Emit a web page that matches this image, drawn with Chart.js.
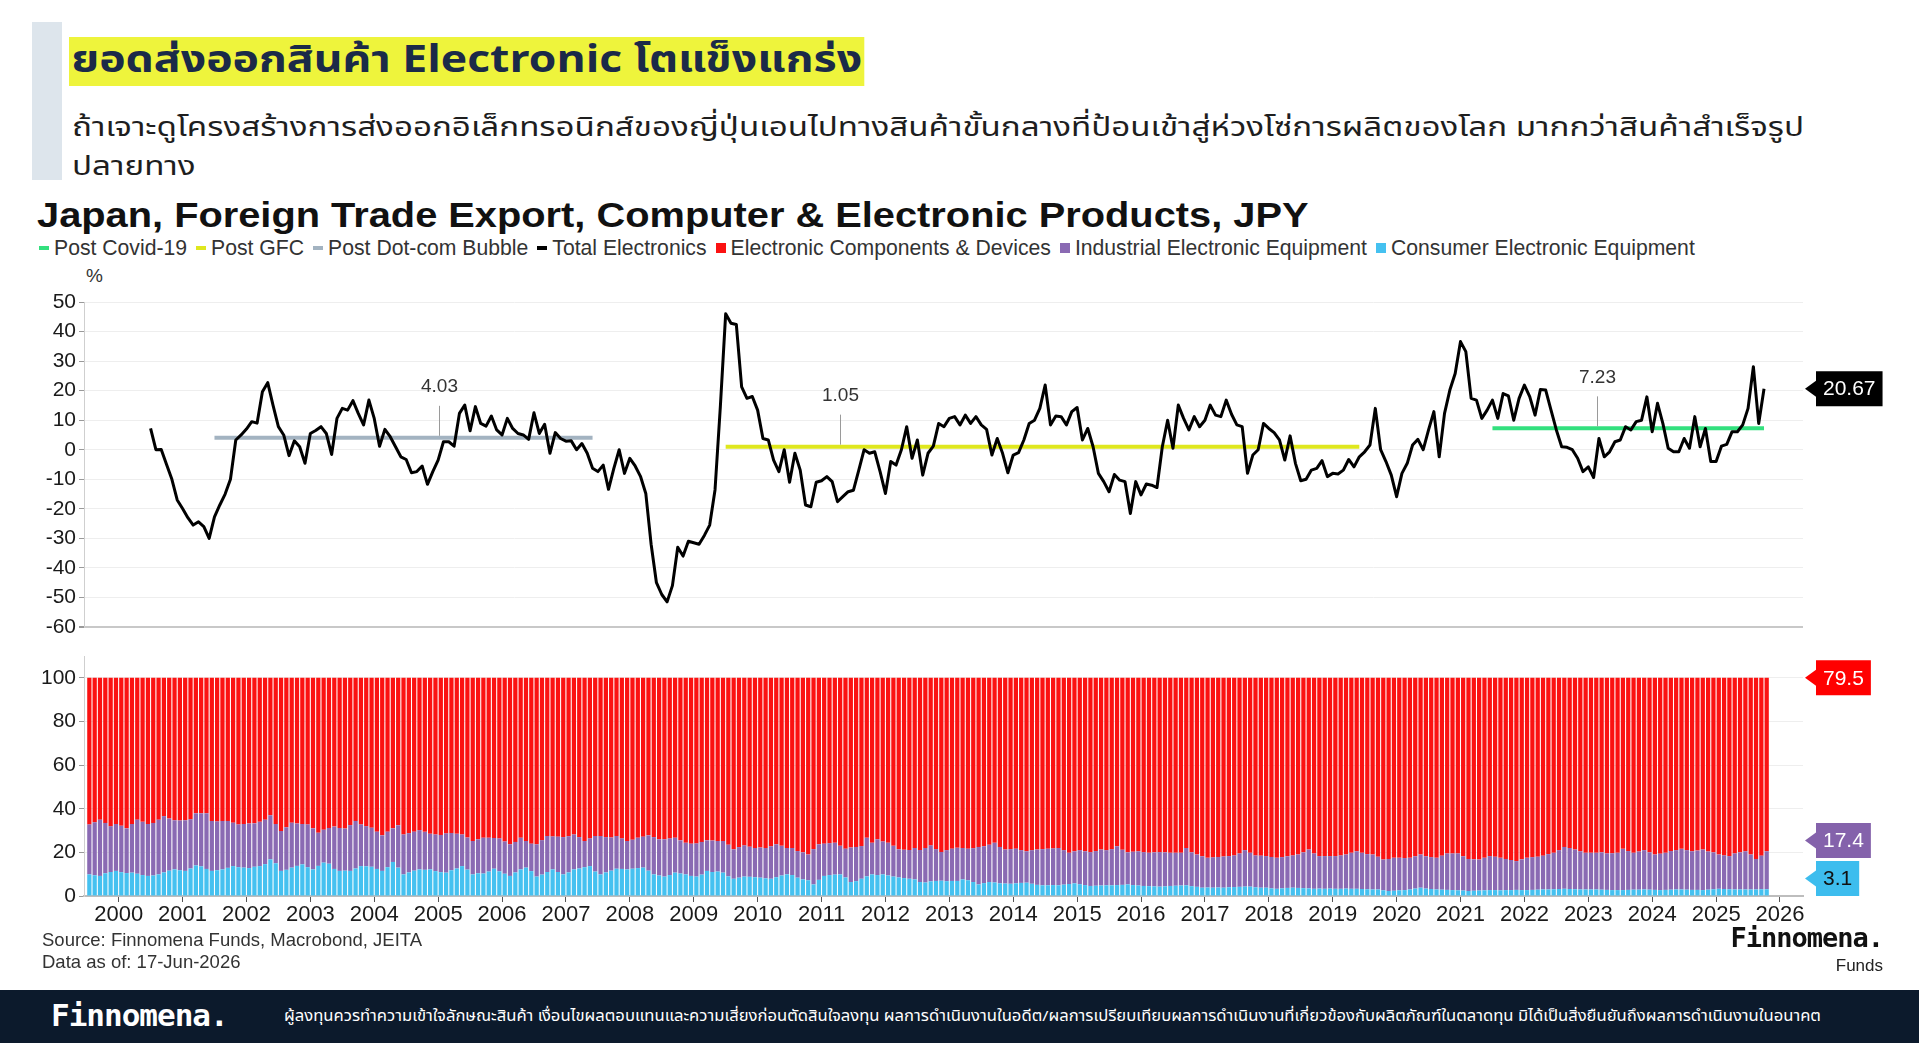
<!DOCTYPE html>
<html lang="th">
<head>
<meta charset="utf-8">
<title>Japan, Foreign Trade Export, Computer &amp; Electronic Products</title>
<script src="https://cdn.jsdelivr.net/npm/chart.js@4.4.1/dist/chart.umd.min.js"></script>
<style>
  html, body { margin:0; padding:0; background:#fff; }
  body { width:1919px; height:1043px; position:relative; overflow:hidden; font-family:"Liberation Sans", Arial, sans-serif; color:#222; }
  .abs { position:absolute; }
  #accent { left:32px; top:22px; width:30px; height:158px; background:#dde5ec; }
  #head { left:69px; top:37px; height:49px; line-height:49px; font-family:"Noto Sans Thai","Noto Sans",sans-serif; font-weight:700; font-size:37px; color:#1b2a48; background:#eef43c; padding:0 2px; white-space:nowrap; transform:scaleX(1.205); transform-origin:0 0; }
  #sub { left:72px; top:108px; font-family:"Noto Sans Thai","Noto Sans",sans-serif; font-size:27px; line-height:39px; color:#1e1e1e; white-space:nowrap; transform:scaleX(1.228); transform-origin:0 0; }
  #title { left:37px; top:194px; font-weight:700; font-size:35px; line-height:42px; color:#111; white-space:nowrap; transform:scaleX(1.137); transform-origin:0 0; }
  #legend { left:39px; top:236px; font-size:21.2px; line-height:24px; color:#333; display:flex; white-space:nowrap; }
  #legend .item { display:flex; align-items:center; margin-right:9px; }
  #legend i { display:inline-block; margin-right:5px; }
  #unit { left:86px; top:265px; font-size:19px; color:#333; }
  #topWrap { left:0; top:280px; }
  #botWrap { left:0; top:640px; }
  #source { left:42px; top:929px; font-size:18.5px; line-height:22px; color:#333; }
  #logo { right:36px; top:922px; font-family:"DejaVu Sans Mono", monospace; font-weight:700; font-size:27px; color:#111; letter-spacing:-1px; }
  #funds { right:36px; top:956px; font-size:17px; color:#222; }
  #footer { left:0; top:990px; width:1919px; height:53px; background:#0c1a2c; color:#fff; }
  #footLogo { left:51px; top:7px; font-family:"DejaVu Sans Mono", monospace; font-weight:700; font-size:31px; letter-spacing:-1px; }
  #disc { left:284px; top:15px; font-family:"Noto Sans Thai","Noto Sans",sans-serif; font-size:15px; white-space:nowrap; transform:scaleX(1.108); transform-origin:0 0; }
</style>
</head>
<body>
<div id="accent" class="abs"></div>
<div id="head" class="abs">ยอดส่งออกสินค้า Electronic โตแข็งแกร่ง</div>
<div id="sub" class="abs">ถ้าเจาะดูโครงสร้างการส่งออกอิเล็กทรอนิกส์ของญี่ปุ่นเอนไปทางสินค้าขั้นกลางที่ป้อนเข้าสู่ห่วงโซ่การผลิตของโลก มากกว่าสินค้าสำเร็จรูป<br>ปลายทาง</div>
<div id="title" class="abs">Japan, Foreign Trade Export, Computer &amp; Electronic Products, JPY</div>
<div id="legend" class="abs"></div>
<div id="unit" class="abs">%</div>
<div id="topWrap" class="abs"><canvas id="topChart" width="1919" height="365"></canvas></div>
<div id="botWrap" class="abs"><canvas id="botChart" width="1919" height="300"></canvas></div>
<div id="source" class="abs">Source: Finnomena Funds, Macrobond, JEITA<br>Data as of: 17-Jun-2026</div>
<div id="logo" class="abs">Finnomena.</div>
<div id="funds" class="abs">Funds</div>
<div id="footer" class="abs">
  <div id="footLogo" class="abs">Finnomena.</div>
  <div id="disc" class="abs">ผู้ลงทุนควรทำความเข้าใจลักษณะสินค้า เงื่อนไขผลตอบแทนและความเสี่ยงก่อนตัดสินใจลงทุน ผลการดำเนินงานในอดีต/ผลการเปรียบเทียบผลการดำเนินงานที่เกี่ยวข้องกับผลิตภัณฑ์ในตลาดทุน มิได้เป็นสิ่งยืนยันถึงผลการดำเนินงานในอนาคต</div>
</div>
<script>
// months of the share data: 2000-01 .. 2026-04
const months = [];
for (let y = 2000; y <= 2026; y++) for (let m = 1; m <= 12; m++) {
  if (y === 2026 && m > 4) break;
  months.push(`${y}-${String(m).padStart(2, '0')}`);
}
const lineMonths = months.slice(12); // YoY starts 2001-01
const yearTicks = [];
for (let y = 2000; y <= 2026; y++) yearTicks.push(y);

// Total Electronics, % YoY
const totalElectronics = [
  7.2, 0, 0.1, -5, -10, -17, -19.9, -23, -25.5, -24.4, -26, -30,            // 2001
  -22.7, -18.7, -15, -10, 3.3, 5, 7, 9.5, 9, 19.6, 22.7, 15,                // 2002
  7.8, 5, -2, 3, 1, -4.6, 5.5, 6.5, 7.8, 5.5, -1.6, 10.6,                   // 2003
  14, 13.4, 16.6, 12.3, 8.4, 16.8, 10.6, 1.2, 6.9, 4.4, 1, -2.4,            // 2004
  -3.3, -7.8, -7.4, -5.5, -11.7, -7.4, -3.5, 2.7, 2.7, 1.2, 12.3, 15.1,     // 2005
  6.4, 14.6, 8.9, 8, 11.4, 6.7, 5, 10.6, 7.2, 5.5, 5, 3.5,                  // 2006
  12.5, 5.5, 8.6, -1.2, 5.8, 3.8, 2.9, 3, 0, 2.1, -1.2, -6.3,               // 2007
  -7.4, -5.2, -13.4, -6.3, 0, -8, -2.9, -5.5, -9, -14.8, -32, -45,          // 2008
  -49, -51.5, -46, -33, -36, -31, -31.5, -32, -29, -25.5, -13.6, 14.6,      // 2009
  46, 42.8, 42.4, 21.3, 17.4, 18, 13.4, 3.8, 3.3, -3.5, -7.4, 0,            // 2010
  -11, -1.2, -6.9, -18.7, -19.3, -11, -10.5, -9.1, -10.8, -17.6, -15.9, -14.2, // 2011
  -13.7, -6.9, 0, -1.2, -0.7, -7.4, -14.8, -4, -5.2, 0, 7.8, -2.9,          // 2012
  3.3, -8.6, -1.2, 1.2, 8.9, 7.8, 10.6, 11.2, 8.4, 11.7, 8.9, 11.2,         // 2013
  8.4, 6.9, -1.8, 3.8, -1.2, -7.8, -1.8, -1, 3.3, 8.9, 10, 14,              // 2014
  21.9, 8.4, 11.4, 11.2, 8.4, 12.9, 14.3, 3.3, 7.2, 1, -8, -10.8,           // 2015
  -14.2, -8.4, -10.3, -10.8, -21.6, -10.8, -15.3, -11.6, -12, -12.8, 1, 10, // 2016
  0.5, 15.1, 10.6, 6.7, 11.2, 7.8, 10, 15.1, 11.7, 11.2, 16.8, 12,          // 2017
  8.4, 7.8, -8, -1.8, 0, 8.9, 7.2, 5.8, 3.3, -3.5, 4.7, -4.6,               // 2018
  -10.5, -10, -6.9, -6.3, -3.7, -9.1, -8, -8.2, -6.9, -3.3, -5.8, -2.4,     // 2019
  -0.7, 1.6, 14, 0, -4, -8.6, -15.9, -8, -4.6, 1.6, 3.5, 0,                 // 2020
  6.7, 12.9, -2.4, 12.3, 20.2, 25.8, 36.6, 33.2, 17.4, 16.8, 10.6, 13.4,    // 2021
  16.8, 10.6, 19, 18.2, 10, 17.4, 21.9, 18, 11.7, 20.4, 20.2, 13.4,         // 2022
  6.7, 1, 0.8, 0, -2.9, -7.4, -5.8, -9.4, 3.8, -2.4, -0.7, 2.7,             // 2023
  3.3, 7.8, 6.7, 9.5, 10, 17.9, 6.1, 15.7, 8.9, 0.5, -0.7, -0.7,            // 2024
  3.8, 0.5, 11.2, 1, 7.2, -4, -4, 1.2, 1.8, 6.1, 6.1, 8.4,                  // 2025
  14, 28.1, 8.9, 20.67                                                      // 2026
];

// period averages
const avgNames = ['Post Covid-19', 'Post GFC', 'Post Dot-com Bubble'];
const avgValues = [7.23, 1.05, 4.03];
const avgFrom = ['2022-01', '2010-01', '2002-01'];
const avgTo = ['2026-04', '2019-12', '2007-12'];

// shares of exports, % (stack to 100)
const consumerShare = [
  9.9, 9.5, 9.2, 10.4, 11.0, 11.5, 10.9, 10.5, 10.7, 10.2, 9.6, 9.2,
  9.4, 9.9, 10.8, 11.6, 12.2, 11.8, 11.5, 12.6, 14.0, 13.6, 12.4, 11.5,
  11.8, 12.2, 12.9, 13.7, 13.2, 13.0, 12.8, 13.4, 13.7, 14.6, 16.8, 15.0,
  11.5, 12.0, 13.0, 13.8, 14.5, 13.2, 12.2, 13.8, 15.3, 14.8, 12.4, 11.5,
  11.6, 11.5, 12.6, 13.7, 13.6, 13.4, 12.4, 11.5, 13.2, 15.6, 13.0, 9.9,
  10.8, 11.6, 12.2, 12.0, 12.2, 11.4, 10.9, 10.7, 11.8, 12.6, 13.7, 12.1,
  9.9, 10.4, 10.3, 11.2, 12.5, 11.3, 10.2, 9.2, 10.8, 12.2, 13.0, 11.4,
  8.9, 9.8, 11.0, 12.2, 11.0, 9.9, 10.8, 12.2, 12.6, 13.2, 13.7, 11.2,
  9.9, 10.8, 11.6, 12.5, 12.4, 12.2, 12.5, 12.8, 13.0, 11.6, 9.9, 9.4,
  8.9, 9.6, 10.7, 10.3, 9.9, 9.2, 8.9, 9.8, 11.5, 11.0, 11.2, 10.7,
  9.0, 7.9, 8.4, 8.9, 8.8, 8.6, 8.4, 8.1, 7.9, 8.6, 9.4, 9.9,
  9.6, 8.4, 7.6, 7.2, 5.3, 7.4, 9.2, 9.6, 9.8, 9.9, 8.5, 6.4,
  6.8, 7.9, 9.0, 9.9, 9.6, 9.9, 9.4, 8.9, 8.5, 8.2, 7.9, 7.6,
  6.4, 6.2, 6.7, 6.9, 7.0, 6.8, 6.9, 6.9, 7.6, 7.2, 6.4, 5.3,
  5.9, 6.4, 6.2, 5.8, 5.7, 5.6, 5.8, 6.0, 6.1, 5.6, 5.1, 4.9,
  4.9, 5.0, 4.9, 5.2, 5.5, 5.8, 5.4, 5.0, 4.6, 4.7, 4.8, 4.9,
  4.9, 5.0, 5.1, 5.3, 5.0, 4.8, 4.6, 4.5, 4.4, 4.3, 4.4, 4.6,
  4.7, 4.8, 4.9, 4.5, 4.2, 3.8, 3.9, 3.8, 3.9, 3.8, 4.0, 4.1,
  4.2, 4.3, 4.3, 4.0, 3.8, 3.8, 3.5, 3.3, 3.5, 3.7, 3.8, 3.7,
  3.6, 3.5, 3.3, 3.4, 3.3, 3.4, 3.3, 3.3, 3.4, 3.3, 3.3, 3.2,
  3.1, 3.0, 3.0, 2.6, 2.3, 2.4, 2.6, 2.7, 3.0, 3.4, 3.8, 3.4,
  3.2, 3.0, 2.9, 2.8, 2.7, 2.6, 2.5, 2.3, 2.4, 2.5, 2.6, 2.7,
  2.7, 2.6, 2.7, 2.7, 2.8, 2.7, 2.7, 2.8, 2.9, 3.0, 3.0, 3.1,
  3.2, 3.3, 3.2, 3.1, 3.0, 3.0, 3.0, 3.0, 2.9, 2.8, 2.7, 2.7,
  2.7, 2.8, 2.9, 2.9, 3.0, 2.9, 2.8, 2.7, 2.8, 2.9, 3.0, 3.0,
  2.9, 2.8, 2.8, 2.7, 2.9, 3.1, 3.3, 3.2, 3.1, 3.0, 3.0, 3.0,
  3.0, 3.0, 3.1, 3.1
];
const industrialShare = [
  22.9, 24.3, 25.8, 23.1, 21.0, 21.5, 21.3, 20.5, 22.3, 24.8, 24.4, 23.8,
  24.1, 25.1, 25.8, 23.9, 22.5, 22.8, 23.2, 22.6, 23.9, 24.3, 25.5, 22.9,
  22.4, 22.2, 21.5, 19.9, 19.6, 20.0, 20.4, 19.9, 20.3, 20.4, 20.2, 18.0,
  18.3, 19.5, 20.6, 19.4, 18.5, 19.6, 18.8, 15.2, 15.1, 16.4, 19.4, 19.7,
  19.3, 21.0, 21.8, 19.1, 18.4, 17.9, 17.1, 16.3, 16.3, 15.4, 19.4, 18.3,
  18.0, 17.9, 18.0, 17.4, 16.3, 16.8, 17.1, 18.0, 17.1, 15.9, 14.5, 14.7,
  15.3, 15.6, 16.4, 15.5, 14.1, 15.1, 14.8, 14.5, 14.0, 14.5, 12.2, 12.6,
  14.8, 15.8, 16.5, 15.1, 16.2, 17.1, 16.6, 16.0, 14.4, 12.0, 12.7, 16.3,
  17.6, 16.2, 15.2, 15.0, 14.0, 13.0, 13.3, 13.9, 14.2, 16.2, 17.1, 16.6,
  17.1, 16.8, 16.0, 15.2, 14.5, 14.8, 15.2, 15.0, 14.0, 14.4, 14.0, 14.5,
  14.5, 13.5, 14.0, 14.3, 13.8, 13.4, 13.8, 13.9, 14.9, 15.1, 13.6, 12.1,
  12.4, 12.2, 12.4, 11.8, 16.2, 16.3, 14.8, 14.6, 14.6, 13.1, 13.2, 15.8,
  15.7, 15.0, 17.7, 14.5, 16.4, 15.1, 15.0, 14.1, 12.9, 13.0, 13.2, 14.4,
  14.7, 15.8, 16.5, 14.6, 13.2, 14.2, 14.8, 15.2, 14.4, 14.5, 15.5, 17.2,
  16.9, 17.1, 18.2, 16.7, 15.6, 15.9, 15.9, 15.0, 14.4, 15.4, 16.2, 16.6,
  16.8, 16.8, 17.1, 15.8, 14.3, 14.7, 15.6, 15.5, 15.5, 15.9, 16.5, 16.1,
  16.6, 17.8, 16.1, 14.7, 15.3, 15.7, 15.5, 15.3, 15.6, 15.8, 15.6, 15.2,
  15.1, 15.0, 17.1, 15.5, 14.8, 14.4, 13.6, 13.9, 14.0, 14.3, 14.3, 14.5,
  15.3, 16.7, 15.5, 14.6, 14.7, 14.5, 14.4, 14.2, 14.3, 14.5, 14.8, 15.3,
  16.4, 17.8, 16.2, 14.9, 15.0, 14.9, 15.0, 15.3, 15.6, 16.5, 17.2, 16.6,
  16.1, 16.0, 15.0, 14.1, 14.7, 15.1, 14.9, 14.7, 14.5, 14.8, 15.2, 14.8,
  14.6, 14.5, 15.6, 16.7, 16.8, 16.9, 15.7, 14.7, 14.4, 14.2, 14.9, 15.6,
  15.3, 14.9, 14.3, 13.8, 13.2, 14.1, 14.8, 15.0, 15.1, 15.5, 16.2, 16.7,
  17.8, 19.2, 18.8, 18.2, 17.5, 16.8, 16.8, 16.8, 17.1, 16.7, 16.9, 17.1,
  18.9, 17.8, 16.9, 17.5, 18.0, 17.1, 16.2, 16.7, 17.0, 17.7, 18.0, 18.6,
  18.1, 17.7, 18.0, 18.6, 17.5, 16.9, 15.7, 15.4, 15.2, 16.5, 17.0, 17.5,
  16.0, 14.0, 15.4, 17.4
];
const componentsShare = [
  67.2, 66.2, 65.0, 66.5, 68.0, 67.0, 67.8, 69.0, 67.0, 65.0, 66.0, 67.0,
  66.5, 65.0, 63.4, 64.5, 65.3, 65.4, 65.3, 64.8, 62.1, 62.1, 62.1, 65.6,
  65.8, 65.6, 65.6, 66.4, 67.2, 67.0, 66.8, 66.7, 66.0, 65.0, 63.0, 67.0,
  70.2, 68.5, 66.4, 66.8, 67.0, 67.2, 69.0, 71.0, 69.6, 68.8, 68.2, 68.8,
  69.1, 67.5, 65.6, 67.2, 68.0, 68.7, 70.5, 72.2, 70.5, 69.0, 67.6, 71.8,
  71.2, 70.5, 69.8, 70.6, 71.5, 71.8, 72.0, 71.3, 71.1, 71.5, 71.8, 73.2,
  74.8, 74.0, 73.3, 73.3, 73.4, 73.6, 75.0, 76.3, 75.2, 73.3, 74.8, 76.0,
  76.3, 74.4, 72.5, 72.7, 72.8, 73.0, 72.6, 71.8, 73.0, 74.8, 73.6, 72.5,
  72.5, 73.0, 73.2, 72.5, 73.6, 74.8, 74.2, 73.3, 72.8, 72.2, 73.0, 74.0,
  74.0, 73.6, 73.3, 74.5, 75.6, 76.0, 75.9, 75.2, 74.5, 74.6, 74.8, 74.8,
  76.5, 78.6, 77.6, 76.8, 77.4, 78.0, 77.8, 78.0, 77.2, 76.3, 77.0, 78.0,
  78.0, 79.4, 80.0, 81.0, 78.5, 76.3, 76.0, 75.8, 75.6, 77.0, 78.3, 77.8,
  77.5, 77.1, 73.3, 75.6, 74.0, 75.0, 75.6, 77.0, 78.6, 78.8, 78.9, 78.0,
  78.9, 78.0, 76.8, 78.5, 79.8, 79.0, 78.3, 77.9, 78.0, 78.3, 78.1, 77.5,
  77.2, 76.5, 75.6, 77.5, 78.7, 78.5, 78.3, 79.0, 79.5, 79.0, 78.7, 78.5,
  78.3, 78.2, 78.0, 79.0, 80.2, 79.5, 79.0, 79.5, 79.9, 79.4, 78.7, 79.0,
  78.5, 77.2, 78.8, 80.0, 79.7, 79.5, 79.9, 80.2, 80.0, 79.9, 80.0, 80.2,
  80.2, 80.2, 78.0, 80.0, 81.0, 81.8, 82.5, 82.3, 82.1, 81.9, 81.7, 81.4,
  80.5, 79.0, 80.2, 81.4, 81.5, 81.7, 82.1, 82.5, 82.2, 81.8, 81.4, 81.0,
  80.0, 78.7, 80.5, 81.7, 81.7, 81.7, 81.7, 81.4, 81.0, 80.2, 79.5, 80.2,
  80.8, 81.0, 82.0, 83.3, 83.0, 82.5, 82.5, 82.6, 82.5, 81.8, 81.0, 81.8,
  82.2, 82.5, 81.5, 80.5, 80.5, 80.5, 81.8, 83.0, 83.2, 83.3, 82.5, 81.7,
  82.0, 82.5, 83.0, 83.5, 84.0, 83.2, 82.5, 82.2, 82.0, 81.5, 80.8, 80.2,
  79.0, 77.5, 78.0, 78.7, 79.5, 80.2, 80.2, 80.2, 80.0, 80.5, 80.4, 80.2,
  78.4, 79.4, 80.2, 79.6, 79.0, 80.0, 81.0, 80.6, 80.2, 79.4, 79.0, 78.4,
  79.0, 79.5, 79.2, 78.7, 79.6, 80.0, 81.0, 81.4, 81.7, 80.5, 80.0, 79.5,
  81.0, 83.0, 81.5, 79.5
];

const colors = {
  covid: '#33e07e', gfc: '#dfe71e', dotcom: '#a3b3c1', total: '#000000',
  components: '#fb1212', industrial: '#8a6ab3', consumer: '#45c1f0'
};
const FONT = '"Liberation Sans", Arial, sans-serif';
const X_MIN = 1999.958, X_MAX = 2026.86;

// month label -> fractional year (month start)
function monthX(s) { const [y, m] = s.split('-').map(Number); return y + (m - 1) / 12; }

const lineData = lineMonths.map((mo, i) => ({ x: monthX(mo), y: totalElectronics[i] }));
const barData = arr => months.map((mo, i) => ({ x: monthX(mo) + 1 / 24, y: arr[i] }));
const avgColor = [colors.covid, colors.gfc, colors.dotcom];
const avgSets = avgNames.map((n, k) => ({
  label: n, data: [{ x: monthX(avgFrom[k]), y: avgValues[k] }, { x: monthX(avgTo[k]), y: avgValues[k] }],
  borderColor: avgColor[k], borderWidth: 4, pointRadius: 0, order: 2
}));

// legend
const legendItems = [
  [avgNames[0], colors.covid, 'line'], [avgNames[1], colors.gfc, 'line'], [avgNames[2], colors.dotcom, 'line'],
  ['Total Electronics', colors.total, 'line'], ['Electronic Components & Devices', colors.components, 'box'],
  ['Industrial Electronic Equipment', colors.industrial, 'box'], ['Consumer Electronic Equipment', colors.consumer, 'box']
];
const legendEl = document.getElementById('legend');
legendItems.forEach(([name, c, kind]) => {
  const it = document.createElement('span'); it.className = 'item';
  const mk = document.createElement('i');
  mk.style.background = c; mk.style.width = '10px'; mk.style.height = kind === 'line' ? '4px' : '10px';
  it.appendChild(mk); it.appendChild(document.createTextNode(name));
  legendEl.appendChild(it);
});

function drawTag(ctx, text, tipX, y, bg, fg) {
  ctx.save();
  ctx.font = '21px ' + FONT;
  const w = ctx.measureText(text).width + 14, h = 35, x0 = tipX + 11;
  ctx.fillStyle = bg;
  ctx.beginPath();
  ctx.moveTo(tipX, y); ctx.lineTo(x0, y - 8); ctx.lineTo(x0, y - h / 2); ctx.lineTo(x0 + w, y - h / 2);
  ctx.lineTo(x0 + w, y + h / 2); ctx.lineTo(x0, y + h / 2); ctx.lineTo(x0, y + 8); ctx.closePath(); ctx.fill();
  ctx.fillStyle = fg; ctx.textAlign = 'center'; ctx.textBaseline = 'middle';
  ctx.fillText(text, x0 + w / 2, y + 1);
  ctx.restore();
}

// where the average value labels sit (fractional year)
const avgLabelAt = [2023.63, 2011.79, 2005.52];

const topTags = {
  id: 'topTags',
  afterDraw(chart) {
    const { ctx, chartArea } = chart, xs = chart.scales.x, ys = chart.scales.y;
    ctx.save();
    avgValues.forEach((v, k) => {
      const x = Math.round(xs.getPixelForValue(avgLabelAt[k])) + 0.5, y = ys.getPixelForValue(v);
      ctx.strokeStyle = '#9a9a9a'; ctx.lineWidth = 1;
      ctx.beginPath(); ctx.moveTo(x, y - 2); ctx.lineTo(x, y - 32); ctx.stroke();
      ctx.fillStyle = '#333'; ctx.font = '19px ' + FONT; ctx.textAlign = 'center'; ctx.textBaseline = 'middle';
      ctx.fillText(v.toFixed(2), x, y - 51);
    });
    ctx.restore();
    const last = totalElectronics[totalElectronics.length - 1];
    drawTag(ctx, last.toFixed(2), chartArea.right + 2, ys.getPixelForValue(last), '#000', '#fff');
  }
};

const botTags = {
  id: 'botTags',
  afterDraw(chart) {
    const { ctx, chartArea } = chart, ys = chart.scales.y, n = months.length - 1;
    const c = consumerShare[n], i = industrialShare[n], r = componentsShare[n];
    const h = 35;
    const yc = Math.min(ys.getPixelForValue(c), chartArea.bottom - h / 2);
    const yi = Math.min(ys.getPixelForValue(c + i), yc - h - 3);
    const yr = ys.getPixelForValue(c + i + r);
    const tip = chartArea.right + 2;
    drawTag(ctx, r.toFixed(1), tip, yr, '#ff0000', '#fff');
    drawTag(ctx, i.toFixed(1), tip, yi, '#8462ab', '#fff');
    drawTag(ctx, c.toFixed(1), tip, yc, '#3dbdee', '#111');
  }
};

const yAxisWidth = s => { s.width = 84; };

new Chart(document.getElementById('topChart'), {
  type: 'line',
  data: {
    datasets: [
      ...avgSets,
      { label: 'Total Electronics', data: lineData, borderColor: colors.total, borderWidth: 3, pointRadius: 0, tension: 0, borderJoinStyle: 'round', order: 1 }
    ]
  },
  options: {
    responsive: false, animation: false, parsing: false,
    layout: { padding: { top: 22, bottom: 18, left: 0, right: 116 } },
    plugins: { legend: { display: false }, tooltip: { enabled: false } },
    scales: {
      x: { type: 'linear', min: X_MIN, max: X_MAX, display: false },
      y: {
        min: -60, max: 50, afterFit: yAxisWidth,
        ticks: { stepSize: 10, color: '#1a1a1a', padding: 3, font: { family: FONT, size: 21 } },
        grid: { color: c => c.tick && c.tick.value === -60 ? '#c8c8c8' : '#eeeeee', lineWidth: c => c.tick && c.tick.value === -60 ? 2 : 1, tickColor: '#999', tickLength: 5 },
        border: { color: '#cfcfcf' }
      }
    }
  },
  plugins: [topTags]
});

new Chart(document.getElementById('botChart'), {
  type: 'bar',
  data: {
    datasets: [
      { label: 'Consumer Electronic Equipment', data: barData(consumerShare), backgroundColor: colors.consumer },
      { label: 'Industrial Electronic Equipment', data: barData(industrialShare), backgroundColor: colors.industrial },
      { label: 'Electronic Components & Devices', data: barData(componentsShare), backgroundColor: colors.components }
    ]
  },
  options: {
    responsive: false, animation: false, parsing: false,
    layout: { padding: { top: 16, bottom: 0, left: 0, right: 116 } },
    datasets: { bar: { barPercentage: 0.8, categoryPercentage: 1, borderWidth: 0 } },
    plugins: { legend: { display: false }, tooltip: { enabled: false } },
    scales: {
      x: {
        type: 'linear', min: X_MIN, max: X_MAX, stacked: true, offset: false,
        afterBuildTicks: s => { s.ticks = yearTicks.map(v => ({ value: v })); },
        afterFit: s => { s.height = 44; },
        ticks: { color: '#1a1a1a', padding: 0, labelOffset: 32, maxRotation: 0, autoSkip: false, font: { family: FONT, size: 22 }, callback: v => String(v) },
        grid: { drawOnChartArea: false, tickColor: '#555', tickLength: 6 },
        border: { color: '#bdbdbd', width: 2 }
      },
      y: {
        min: 0, max: 110, stacked: true, afterFit: yAxisWidth,
        ticks: { stepSize: 10, color: '#1a1a1a', padding: 3, font: { family: FONT, size: 21 }, callback: v => (v % 20 === 0 && v <= 100 ? v : '') },
        grid: { color: '#eeeeee', tickColor: '#999', tickLength: 5 },
        border: { color: '#cfcfcf' }
      }
    }
  },
  plugins: [botTags]
});
</script>
</body>
</html>
